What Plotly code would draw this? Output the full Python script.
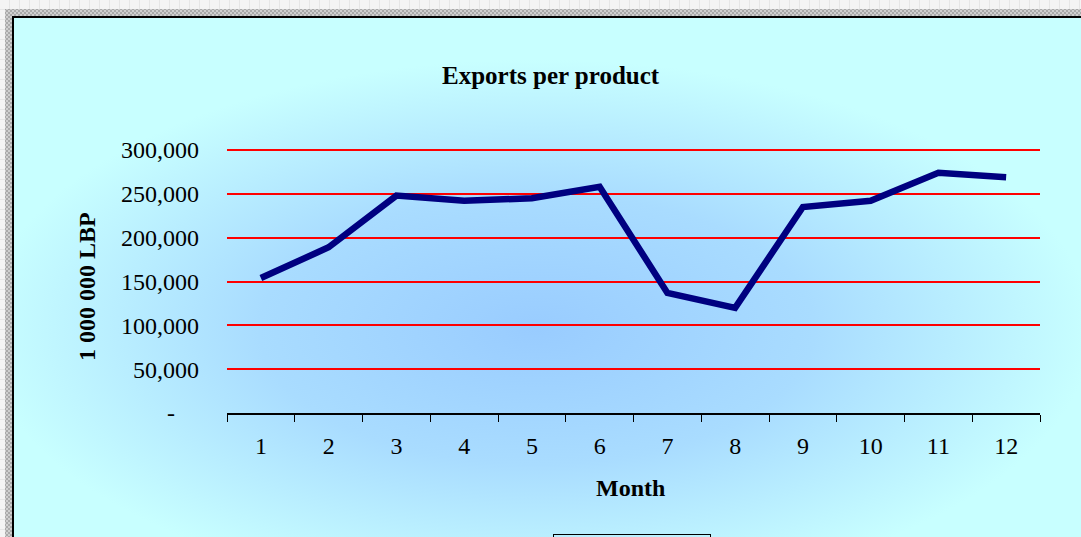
import base64
import plotly.graph_objects as go

# ---- data ----
months = ["1", "2", "3", "4", "5", "6", "7", "8", "9", "10", "11", "12"]
exports = [154000, 189000, 248000, 242000, 245000, 258000, 137000, 120000, 235000, 242000, 274000, 269000]
y_tickvals = [0, 50000, 100000, 150000, 200000, 250000, 300000]
y_ticktext = ["-\u00a0\u00a0\u00a0\u00a0", "50,000", "100,000", "150,000", "200,000", "250,000", "300,000"]

W, H = 1081, 537
L, R, T, B = 227, 41, 147, 124
PW, PH = W - L - R, H - T - B
# 300,000 should sit at pixel 150 while 0 sits at pixel 413
y_top = 300000 * PH / 263.0


def px_x(p):
    return (p - L) / PW


def px_y(p):
    return (H - B - p) / PH


svg = f'''<svg xmlns="http://www.w3.org/2000/svg" width="{W}" height="{H}" viewBox="0 0 {W} {H}">
<defs>
<pattern id="chk" width="4" height="4" patternUnits="userSpaceOnUse">
<rect width="4" height="4" fill="#cfcfcf"/>
<rect width="2" height="2" fill="#a9a9a9"/>
<rect x="2" y="2" width="2" height="2" fill="#a9a9a9"/>
</pattern>
<pattern id="lg" width="10" height="10" patternUnits="userSpaceOnUse">
<rect width="10" height="10" fill="#f4f4f4"/>
<path d="M9.5 0 V10 M0 9.5 H10" stroke="#e6e6e6" stroke-width="1"/>
</pattern>
<radialGradient id="g" cx="0.49" cy="0.60" r="0.52">
<stop offset="0" stop-color="#99CCFF"/>
<stop offset="0.5" stop-color="#A9DCFF"/>
<stop offset="1" stop-color="#C8FFFF"/>
</radialGradient>
</defs>
<rect width="{W}" height="{H}" fill="url(#lg)"/>
<rect x="5" y="9" width="{W-5}" height="{H-9}" fill="url(#chk)"/>
<rect x="14" y="18" width="{W-14}" height="{H-18}" fill="url(#g)"/>
<path d="M13 {H} V17 H{W}" stroke="#000" stroke-width="2" fill="none"/>
<rect x="553.5" y="534.5" width="157" height="20" fill="none" stroke="#000" stroke-width="1"/>
</svg>'''
src = "data:image/svg+xml;base64," + base64.b64encode(svg.encode()).decode()

FONT = "Liberation Serif"

fig = go.Figure()
fig.add_trace(go.Scatter(
    x=months, y=exports, mode="lines",
    line=dict(color="#000080", width=6.5),
    hoverinfo="skip", showlegend=False,
))

fig.update_layout(
    width=W, height=H, autosize=False,
    margin=dict(l=L, r=R, t=T, b=B, pad=0),
    paper_bgcolor="#f4f4f4",
    plot_bgcolor="rgba(0,0,0,0)",
    showlegend=False,
    font=dict(family=FONT, size=24, color="#000"),
    images=[dict(
        source=src, xref="paper", yref="paper",
        x=px_x(0), y=px_y(0), sizex=W / PW, sizey=H / PH,
        xanchor="left", yanchor="top", sizing="stretch", layer="below",
    )],
    xaxis=dict(
        type="category", categoryorder="array", categoryarray=months,
        range=[-0.5, 11.5], showgrid=False, zeroline=False,
        showline=True, linecolor="#000", linewidth=1.5,
        ticks="outside", tickson="boundaries", ticklen=7, tickcolor="#000", tickwidth=1,
        tickfont=dict(family=FONT, size=24), ticklabelstandoff=10,
    ),
    yaxis=dict(
        range=[0, y_top], tickmode="array", tickvals=y_tickvals, ticktext=y_ticktext,
        showgrid=True, gridcolor="#FF0000", gridwidth=2, zeroline=False,
        showline=False, ticks="", tickfont=dict(family=FONT, size=24),
        ticklabelstandoff=27,
    ),
    annotations=[
        dict(text="<b>Exports per product</b>", xref="paper", yref="paper",
             x=px_x(551), y=px_y(75), xanchor="center", yanchor="middle",
             showarrow=False, font=dict(family=FONT, size=25)),
        dict(text="<b>Month</b>", xref="paper", yref="paper",
             x=px_x(630), y=px_y(488), xanchor="center", yanchor="middle",
             showarrow=False, font=dict(family=FONT, size=24)),
        dict(text="<b>1 000 000 LBP</b>", xref="paper", yref="paper",
             x=px_x(87), y=px_y(287), xanchor="center", yanchor="middle",
             textangle=-90, showarrow=False, font=dict(family=FONT, size=24)),
    ],
)

fig.write_html("out.html")
